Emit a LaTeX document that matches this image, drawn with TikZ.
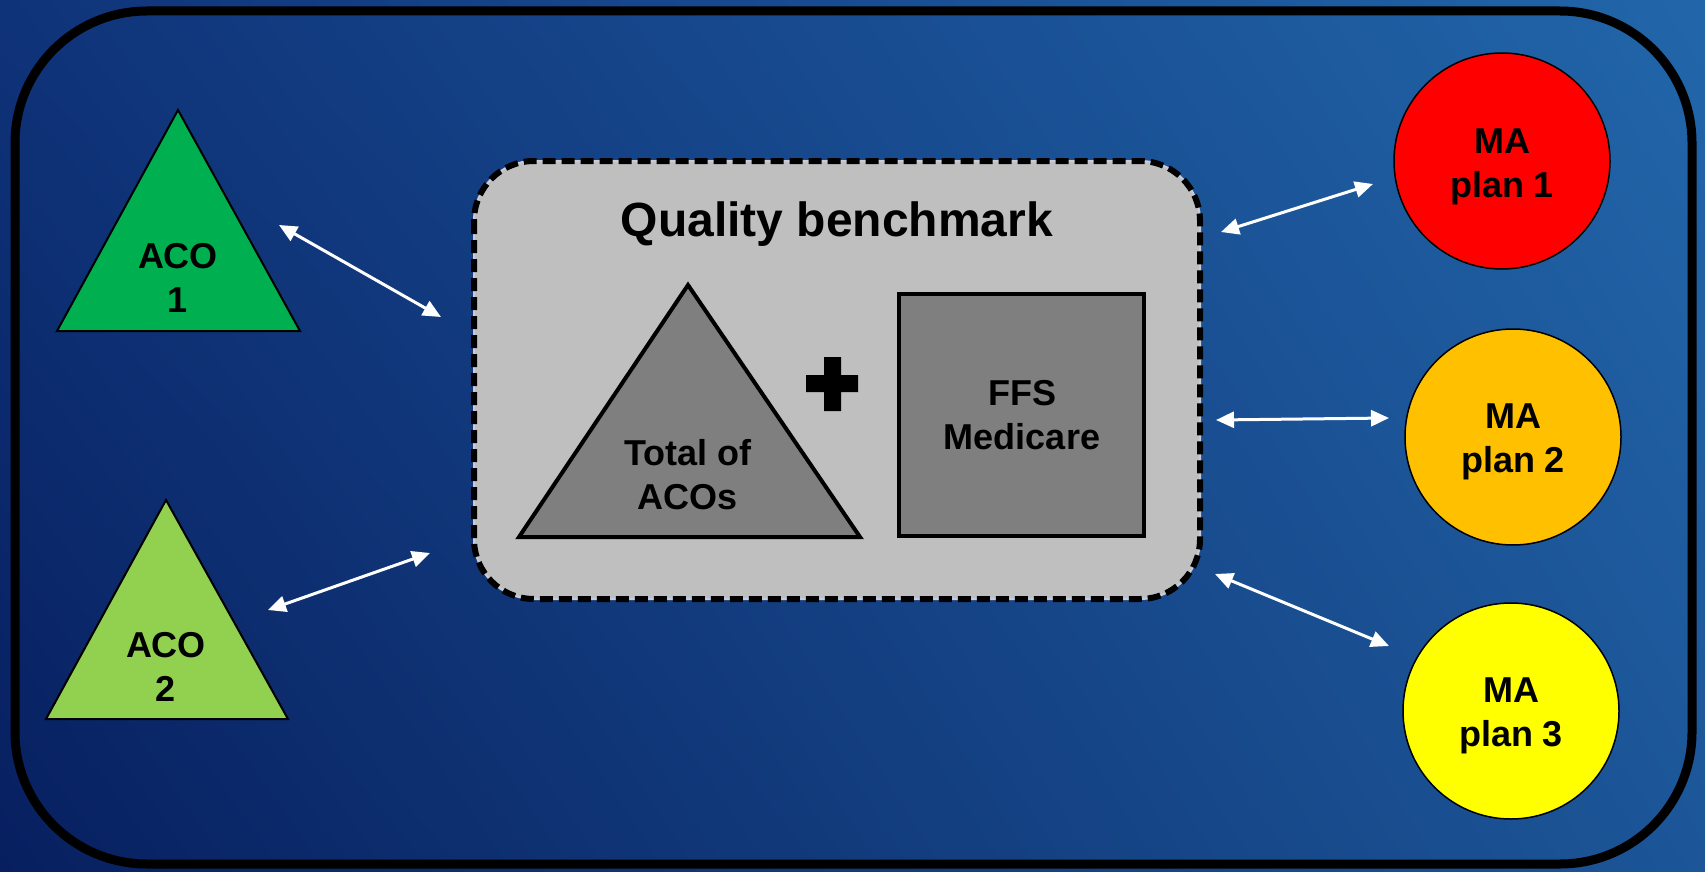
\documentclass[tikz,border=0pt]{standalone}
\usepackage{fontspec}
\setmainfont{Liberation Sans}
\usetikzlibrary{arrows.meta,shadings}
\definecolor{bgUL}{HTML}{0F3379}
\definecolor{bgLL}{HTML}{071F5F}
\definecolor{bgUR}{HTML}{2266AA}
\definecolor{bgLR}{HTML}{1C5698}
\definecolor{acoA}{HTML}{00B050}
\definecolor{acoB}{HTML}{92D050}
\definecolor{maA}{HTML}{FF0000}
\definecolor{maB}{HTML}{FFC000}
\definecolor{maC}{HTML}{FFFF00}
\definecolor{boxfill}{HTML}{BFBFBF}
\definecolor{darkfill}{HTML}{7F7F7F}
\definecolor{gapcol}{HTML}{C8CCD8}
\tikzset{
  lbl/.style={font=\bfseries\fontsize{36}{44}\selectfont, align=center, text=black},
  title/.style={font=\bfseries\fontsize{48}{54}\selectfont, text=black},
  plan/.style={circle, draw=black, line width=1.5pt, minimum size=216pt, inner sep=0pt},
  link/.style={draw=white, line width=3pt, {Triangle[length=18pt,width=16pt]}-{Triangle[length=18pt,width=16pt]}},
  tri/.style={draw=black, line width=2pt, line join=miter},
}
\begin{document}
\begin{tikzpicture}[x=1pt,y=-1pt]
\useasboundingbox (0,0) rectangle (1705,872);
\shade[upper left=bgUL, lower left=bgLL, upper right=bgUR, lower right=bgLR] (0,0) rectangle (1705,872);
% outer frame
\draw[black, line width=9pt, rounded corners=132pt] (15,11) rectangle (1692,864);

% ACO triangles
\coordinate (a1t) at (178,110); \coordinate (a1l) at (57,331); \coordinate (a1r) at (300,331);
\filldraw[tri, fill=acoA] (a1t) -- (a1l) -- (a1r) -- cycle;
\node[lbl] (aco1) at (178,278) {ACO\\1};
\coordinate (a2t) at (166,500); \coordinate (a2l) at (46,719); \coordinate (a2r) at (288,719);
\filldraw[tri, fill=acoB] (a2t) -- (a2l) -- (a2r) -- cycle;
\node[lbl] (aco2) at (166,667) {ACO\\2};

% benchmark box
\path[fill=boxfill, rounded corners=60pt] (474,161) rectangle (1200,599);
\draw[draw=gapcol, line width=2pt, rounded corners=60pt] (474,161) rectangle (1200,599);
\draw[black, line width=6pt, dash pattern=on 13pt off 6pt, rounded corners=60pt] (474,161) rectangle (1200,599);
\node[title] (qb) at (837,224) {Quality benchmark};

% inner triangle
\coordinate (tt) at (688,285); \coordinate (tl) at (519,537); \coordinate (tr) at (860,537);
\filldraw[draw=black, line width=4pt, fill=darkfill] (tt) -- (tl) -- (tr) -- cycle;
\node[lbl] (tot) at (688,475) {Total of\\ACOs};

% plus sign
\fill[black] (824,357) -- (841,357) -- (841,375) -- (858,375) -- (858,392) -- (841,392) -- (841,411) -- (824,411) -- (824,392) -- (806,392) -- (806,375) -- (824,375) -- cycle;

% FFS square
\filldraw[draw=black, line width=4pt, fill=darkfill] (899,294) rectangle (1144,536);
\node[lbl] (ffs) at (1022,415) {FFS\\Medicare};

% MA plans
\node[plan, fill=maA] (ma1) at (1502,161) {};
\node[lbl] (ma1t) at (1502,167) {MA\\plan 1};
\node[plan, fill=maB] (ma2) at (1513,437) {};
\node[lbl] (ma2t) at (1513,442) {MA\\plan 2};
\node[plan, fill=maC] (ma3) at (1511,711) {};
\node[lbl] (ma3t) at (1511,716) {MA\\plan 3};

% arrow endpoints
\coordinate (e1a) at (279,225); \coordinate (e1b) at (441,317);
\coordinate (e2a) at (268,610); \coordinate (e2b) at (430,553);
\coordinate (e3a) at (1221,232); \coordinate (e3b) at (1373,184);
\coordinate (e4a) at (1216,420); \coordinate (e4b) at (1389,418);
\coordinate (e5a) at (1215,574); \coordinate (e5b) at (1389,646);
\draw[link] (e1a) -- (e1b);
\draw[link] (e2a) -- (e2b);
\draw[link] (e3a) -- (e3b);
\draw[link] (e4a) -- (e4b);
\draw[link] (e5a) -- (e5b);
\end{tikzpicture}
\end{document}
